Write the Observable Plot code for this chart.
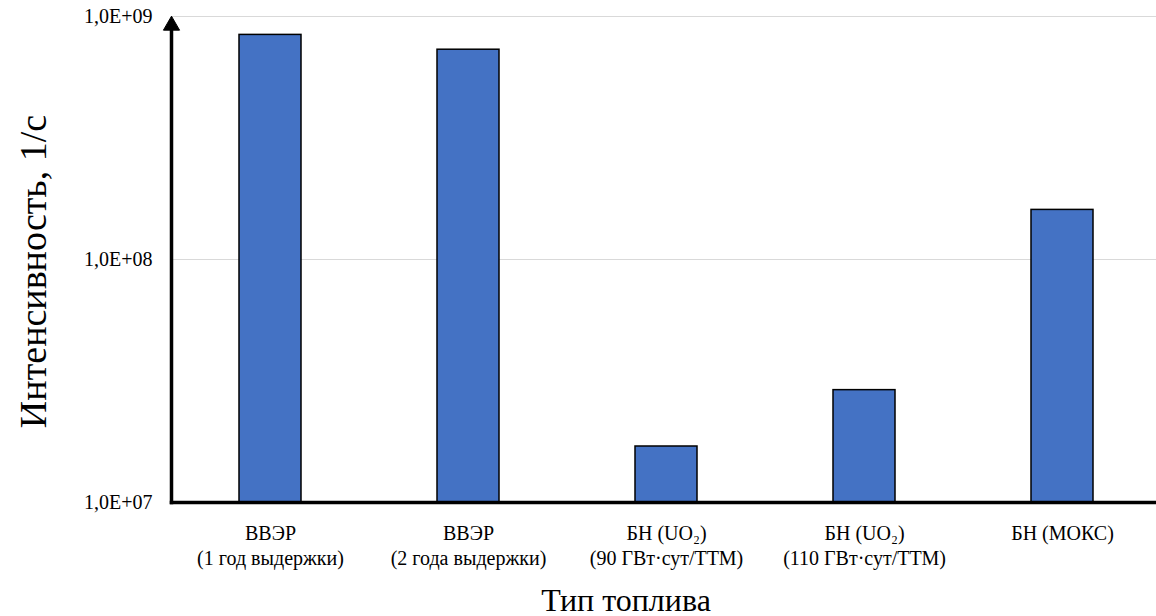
<!DOCTYPE html>
<html>
<head>
<meta charset="utf-8">
<script src="https://cdn.jsdelivr.net/npm/d3@7"></script>
<script src="https://cdn.jsdelivr.net/npm/@observablehq/plot@0.6"></script>
<style>
  html, body { margin: 0; padding: 0; background: #fff; }
</style>
</head>
<body>
<div id="chart"></div>
<script>
const categories = [
  "ВВЭР\n(1 год выдержки)",
  "ВВЭР\n(2 года выдержки)",
  "БН (UO₂)\n(90 ГВт·сут/ТТМ)",
  "БН (UO₂)\n(110 ГВт·сут/ТТМ)",
  "БН (МОКС)"
];
const values = [8.4e8, 7.3e8, 1.7e7, 2.9e7, 1.6e8];
const yTicks = [1e7, 1e8, 1e9];
const yTickLabels = ["1,0E+07", "1,0E+08", "1,0E+09"];
const yTitle = "Интенсивность, 1/с";
const xTitle = "Тип топлива";

const data = categories.map((c, i) => ({cat: c, value: values[i]}));

const chart = Plot.plot({
  width: 1156,
  height: 616,
  marginLeft: 171,
  marginRight: 0,
  marginTop: 16,
  marginBottom: 114,
  style: {fontFamily: "Liberation Serif", fontSize: "20px"},
  x: {domain: categories, range: [171, 1161], paddingInner: 0.687, paddingOuter: 0.3435, label: null},
  y: {type: "log", domain: [1e7, 1e9], label: null},
  marks: [
    Plot.gridY(yTicks, {stroke: "#d9d9d9", strokeOpacity: 1, strokeWidth: 1.2}),
    Plot.barY(data, {x: "cat", y1: 1e7, y2: "value", fill: "#4472C4", stroke: "#000", strokeWidth: 1.5}),
    Plot.axisY(yTicks, {tickSize: 0, tickPadding: 19, fontSize: 20, fill: "#000",
      tickFormat: (d) => yTickLabels[yTicks.indexOf(d)], label: null}),
    Plot.axisX({tickSize: 0, tickPadding: 20, fontSize: 20, lineHeight: 1.25, fill: "#000", label: null}),
    Plot.frame({anchor: "bottom", stroke: "#000", strokeWidth: 3.5}),
    Plot.frame({anchor: "left", stroke: "#000", strokeWidth: 3.5, insetTop: 14}),
    Plot.dot([0], {frameAnchor: "top-left", symbol: "triangle", r: 6, fill: "#000", stroke: "#000", strokeWidth: 1, dy: 9}),
    Plot.text([yTitle], {frameAnchor: "left", textAnchor: "middle", rotate: -90, fontSize: 38, lineAnchor: "bottom", dx: -126, dy: 12, fill: "#000"}),
    Plot.text([xTitle], {frameAnchor: "bottom", textAnchor: "middle", fontSize: 32, lineAnchor: "bottom", dx: -38, dy: 108, fill: "#000"})
  ]
});
document.getElementById("chart").appendChild(chart);
</script>
</body>
</html>
